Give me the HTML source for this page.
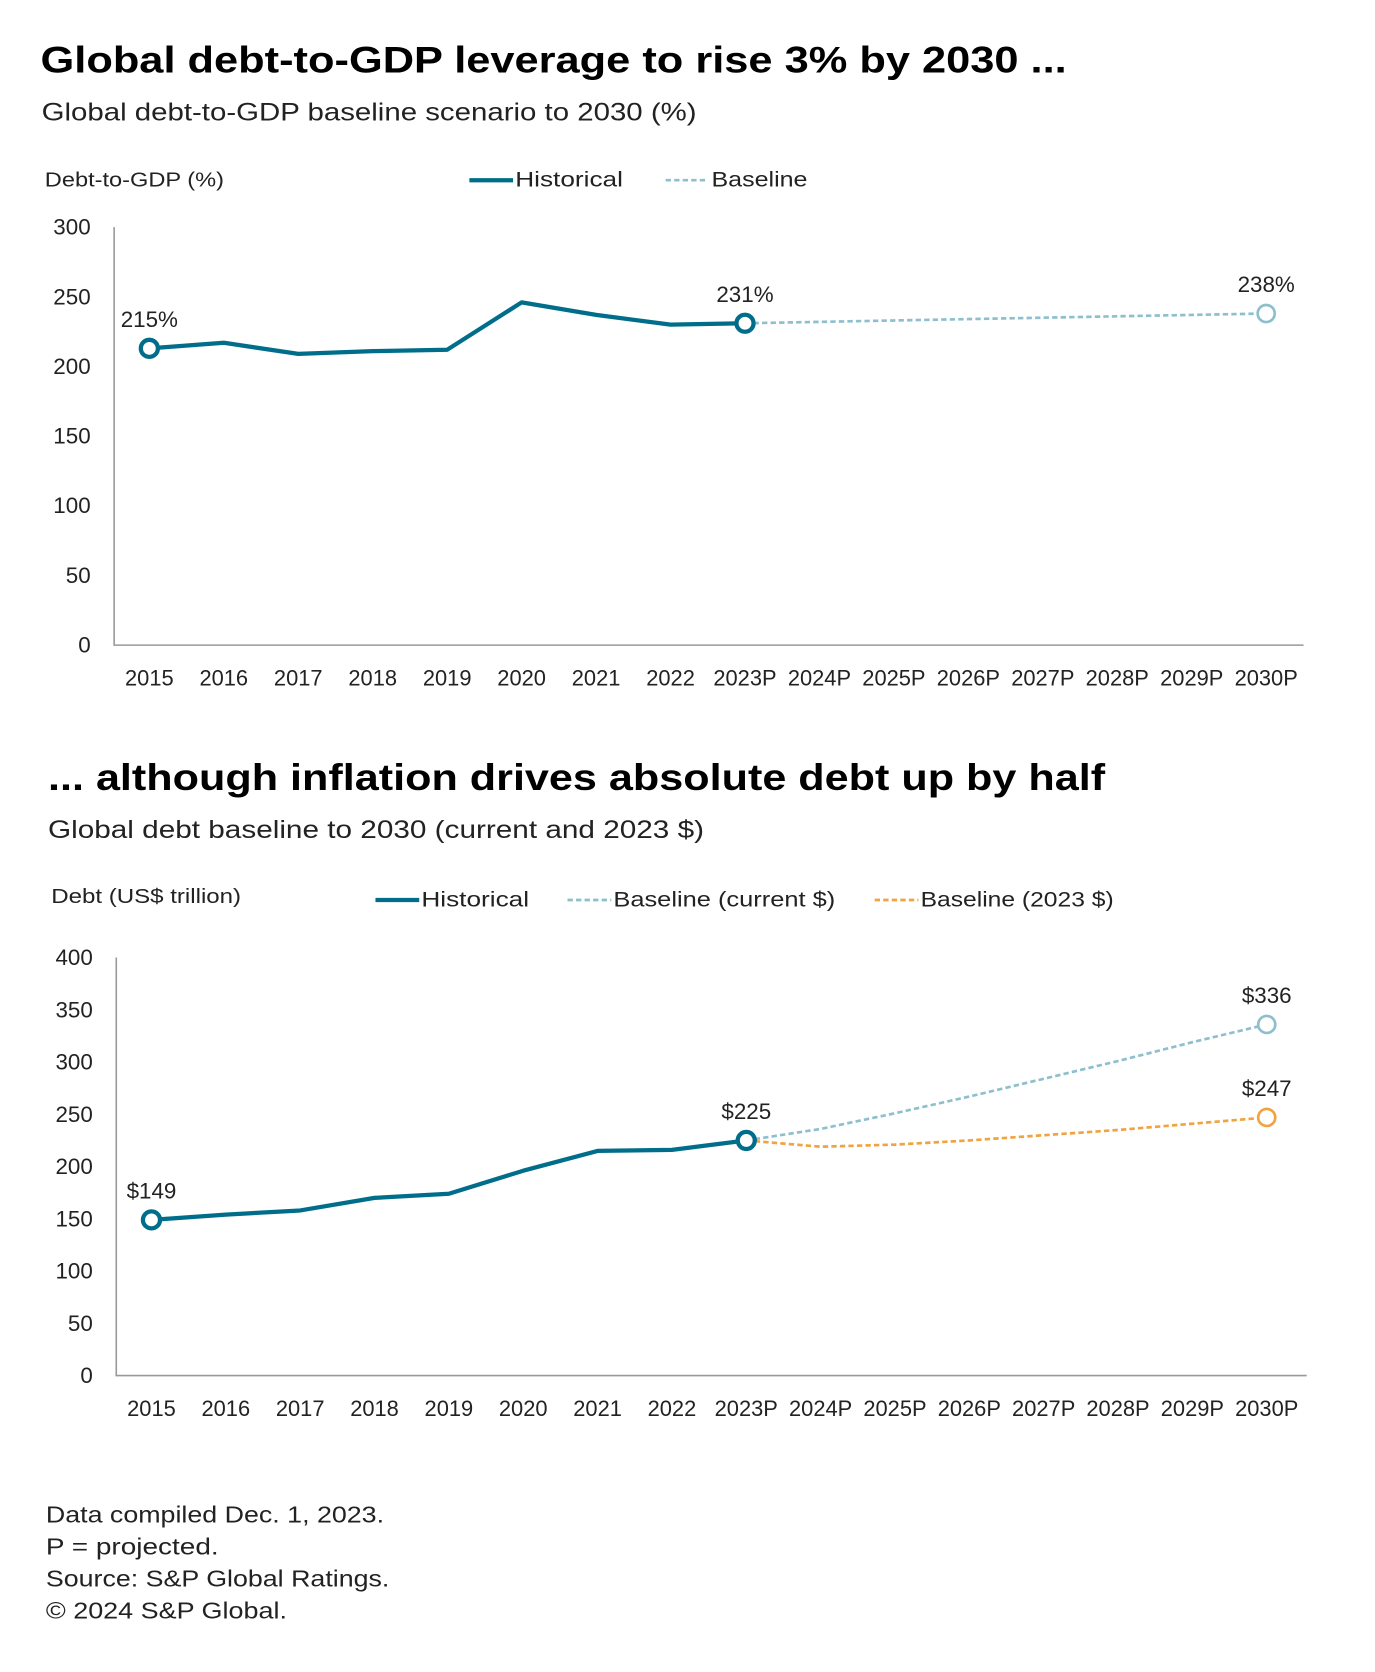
<!DOCTYPE html>
<html><head><meta charset="utf-8"><style>
html,body{margin:0;padding:0;background:#fff;}
svg{display:block;font-family:"Liberation Sans",sans-serif;}
</style></head><body>
<svg id="s" width="1375" height="1672" viewBox="0 0 1289 1568" preserveAspectRatio="none">
<text x="38" y="68" font-size="35" font-weight="bold" fill="#000" textLength="962" lengthAdjust="spacingAndGlyphs">Global debt-to-GDP leverage to rise 3% by 2030 ...</text>
<text x="39" y="113" font-size="23" fill="#222" textLength="614" lengthAdjust="spacingAndGlyphs">Global debt-to-GDP baseline scenario to 2030 (%)</text>
<text x="42" y="175" font-size="19" fill="#222" textLength="168" lengthAdjust="spacingAndGlyphs">Debt-to-GDP (%)</text>
<g>
<line x1="440" y1="169" x2="481" y2="169" stroke="#006e8a" stroke-width="4"/>
<text x="483" y="175" font-size="20" fill="#222" textLength="101" lengthAdjust="spacingAndGlyphs">Historical</text>
<line x1="624" y1="169" x2="664" y2="169" stroke="#8dbfcc" stroke-width="2.5" stroke-dasharray="5,3"/>
<text x="667" y="175" font-size="20" fill="#222" textLength="90" lengthAdjust="spacingAndGlyphs">Baseline</text>
</g>
<g id="c1"></g>
<text x="45" y="741" font-size="35" font-weight="bold" fill="#000" textLength="991" lengthAdjust="spacingAndGlyphs">... although inflation drives absolute debt up by half</text>
<text x="45" y="786" font-size="23" fill="#222" textLength="615" lengthAdjust="spacingAndGlyphs">Global debt baseline to 2030 (current and 2023 $)</text>
<text x="48" y="847" font-size="19" fill="#222" textLength="178" lengthAdjust="spacingAndGlyphs">Debt (US$ trillion)</text>
<g>
<line x1="352" y1="844" x2="393" y2="844" stroke="#006e8a" stroke-width="4"/>
<text x="395" y="850" font-size="20" fill="#222" textLength="101" lengthAdjust="spacingAndGlyphs">Historical</text>
<line x1="532" y1="844" x2="573" y2="844" stroke="#8dbfcc" stroke-width="2.5" stroke-dasharray="5,3"/>
<text x="575" y="850" font-size="20" fill="#222" textLength="208" lengthAdjust="spacingAndGlyphs">Baseline (current $)</text>
<line x1="820" y1="844" x2="861" y2="844" stroke="#f0a33e" stroke-width="2.5" stroke-dasharray="5,3"/>
<text x="863" y="850" font-size="20" fill="#222" textLength="181" lengthAdjust="spacingAndGlyphs">Baseline (2023 $)</text>
</g>
<g id="c2"></g>
<g font-size="22" fill="#222">
<text x="43" y="1428" textLength="317" lengthAdjust="spacingAndGlyphs">Data compiled Dec. 1, 2023.</text>
<text x="43" y="1458" textLength="162" lengthAdjust="spacingAndGlyphs">P = projected.</text>
<text x="43" y="1488" textLength="322" lengthAdjust="spacingAndGlyphs">Source: S&amp;P Global Ratings.</text>
<text x="43" y="1518" textLength="226" lengthAdjust="spacingAndGlyphs">© 2024 S&amp;P Global.</text>
</g>
</svg>
<script>
const categories=["2015","2016","2017","2018","2019","2020","2021","2022","2023P","2024P","2025P","2026P","2027P","2028P","2029P","2030P"];
const ratioHist=[213,217,209,211,212,246,237,230,231];
const ratioBase=[231,232,233,234,235,236,237,238];
const ratioTicks=[0,50,100,150,200,250,300];
const ratioLabels=["215%","231%","238%"];
const debtHist=[149,154,158,170,174,196,215,216,225];
const debtCurrent=[225,236,251,267,284,301,319,336];
const debtReal=[225,219,221,225,230,235,241,247];
const debtTicks=[0,50,100,150,200,250,300,350,400];
const debtLabels=["$149","$225","$336","$247"];
const NS="http://www.w3.org/2000/svg";
function mk(p,t,a){const e=document.createElementNS(NS,t);for(const k in a)e.setAttribute(k,a[k]);p.appendChild(e);return e;}
function draw(g,cfg){
 const x=i=>cfg.x0+i*cfg.step;
 const y=v=>cfg.yb-(v/cfg.max)*(cfg.yb-cfg.yt);
 const ax=mk(g,"path",{d:`M${cfg.ax} ${cfg.yt}V${cfg.yb}H${cfg.xe}`,fill:"none",stroke:"#999","stroke-width":1.5});
 
 
 cfg.ticks.forEach(t=>{const e=mk(g,"text",{x:cfg.ax-22,y:y(t)+7,"text-anchor":"end","font-size":21,fill:"#222"});e.textContent=t;
  
  });
 categories.forEach((c,i)=>{const e=mk(g,"text",{x:x(i),y:cfg.yb+38,"text-anchor":"middle","font-size":20.5,fill:"#222"});e.textContent=c;
  
  });
 cfg.series.forEach(s=>{
  const pts=s.v.map((v,i)=>x(i+s.off)+","+y(v)).join(" ");
  const l=mk(g,"polyline",{points:pts,fill:"none",stroke:s.c,"stroke-width":s.w,"stroke-dasharray":s.d||"none","stroke-linejoin":"round"});
  
  
 });
 cfg.markers.forEach(m=>{
  const c=mk(g,"circle",{cx:x(m.i),cy:y(m.v),r:8,fill:"#fff",stroke:m.c,"stroke-width":m.w});
  
  
  const t=mk(g,"text",{x:x(m.i),y:y(m.v)-20,"text-anchor":"middle","font-size":21,fill:"#222"});t.textContent=m.t;
  
  
 });
}
draw(document.getElementById("c1"),{x0:140,step:69.8,ax:107,xe:1222,yt:213,yb:605,max:300,ticks:ratioTicks,
 series:[{v:ratioHist,off:0,c:"#006e8a",w:4,n:"historical-line"},{v:ratioBase,off:8,c:"#8dbfcc",w:2.5,d:"5,3",n:"baseline-line"}],
 markers:[{i:0,v:ratioHist[0],c:"#006e8a",w:4,t:ratioLabels[0]},{i:8,v:ratioHist[8],c:"#006e8a",w:4,t:ratioLabels[1]},{i:15,v:ratioBase[7],c:"#8dbfcc",w:2.5,t:ratioLabels[2]}]});
draw(document.getElementById("c2"),{x0:142,step:69.7,ax:109,xe:1225,yt:898,yb:1290,max:400,ticks:debtTicks,
 series:[{v:debtHist,off:0,c:"#006e8a",w:4,n:"historical-line"},{v:debtCurrent,off:8,c:"#8dbfcc",w:2.5,d:"5,3",n:"baseline-current-line"},{v:debtReal,off:8,c:"#f0a33e",w:2.5,d:"5,3",n:"baseline-2023-line"}],
 markers:[{i:0,v:debtHist[0],c:"#006e8a",w:4,t:debtLabels[0]},{i:8,v:debtHist[8],c:"#006e8a",w:4,t:debtLabels[1]},{i:15,v:debtCurrent[7],c:"#8dbfcc",w:2.5,t:debtLabels[2]},{i:15,v:debtReal[7],c:"#f0a33e",w:2.5,t:debtLabels[3]}]});
</script>
</body></html>
